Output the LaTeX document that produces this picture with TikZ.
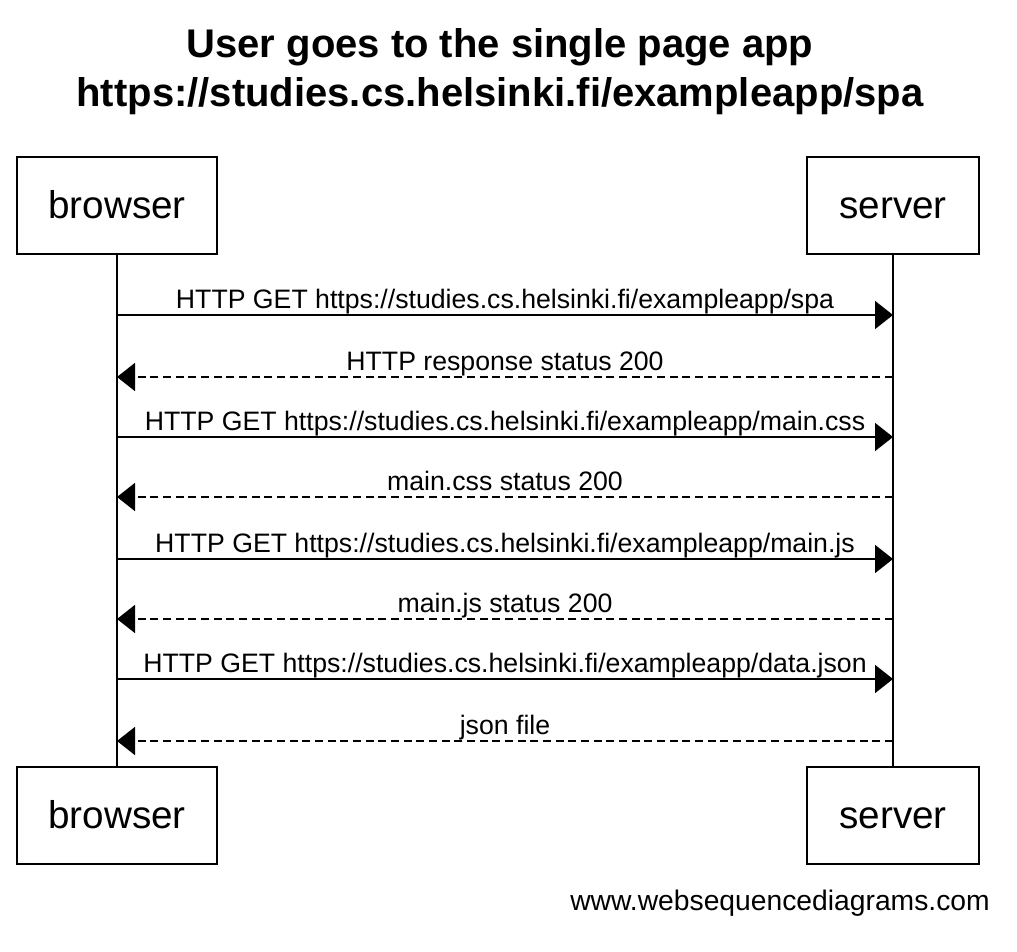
\documentclass[tikz,border=0pt]{standalone}
\usepackage{fontspec}
\setmainfont{Liberation Sans}
\usetikzlibrary{arrows.meta}
\begin{document}
\begin{tikzpicture}[x=0.75pt,y=-0.75pt,
 actor/.style={draw, line width=1.4pt, rectangle, inner sep=0pt, minimum height=72.75pt,
   font=\fontsize{29}{30}\selectfont, text height=20pt, text depth=0pt},
 msg/.style={line width=1.3pt, -{Triangle[length=13.5pt,width=21pt]}},
 ret/.style={msg, dash pattern=on 6pt off 3.5pt},
 lbl/.style={anchor=base, font=\fontsize{20}{22}\selectfont, inner sep=0pt},
 life/.style={line width=1.4pt},
 ttl/.style={anchor=base, font=\fontsize{30}{32}\selectfont\bfseries, inner sep=0pt}]
\useasboundingbox (0,0) rectangle (1017,952);
\fill[white] (0,0) rectangle (1017,952);
% title
\node[ttl] (t1) at (500,58) {User goes to the single page app};
\node[ttl] (t2) at (500,107) {https://studies.cs.helsinki.fi/exampleapp/spa};
% participants
\node[actor, minimum width=150pt] (bTop) at (117,205.5) {browser};
\node[actor, minimum width=129pt] (sTop) at (893,205.5) {server};
\node[actor, minimum width=150pt] (bBot) at (117,815.5) {browser};
\node[actor, minimum width=129pt] (sBot) at (893,815.5) {server};
% lifelines
\draw[life] (bTop.south) -- (bBot.north);
\draw[life] (sTop.south) -- (sBot.north);
% message end points
\foreach \i/\y in {1/315,2/377,3/437,4/497,5/559,6/619,7/679,8/741}{
  \coordinate (b\i) at (117,\y);
  \coordinate (s\i) at (893,\y);
}
\draw[msg] (b1) -- (s1);
\draw[ret] (s2) -- (b2);
\draw[msg] (b3) -- (s3);
\draw[ret] (s4) -- (b4);
\draw[msg] (b5) -- (s5);
\draw[ret] (s6) -- (b6);
\draw[msg] (b7) -- (s7);
\draw[ret] (s8) -- (b8);
% labels
\node[lbl] (l1) at (505,308) {HTTP GET https://studies.cs.helsinki.fi/exampleapp/spa};
\node[lbl] (l2) at (505,370) {HTTP response status 200};
\node[lbl] (l3) at (505,430) {HTTP GET https://studies.cs.helsinki.fi/exampleapp/main.css};
\node[lbl] (l4) at (505,490) {main.css status 200};
\node[lbl] (l5) at (505,552) {HTTP GET https://studies.cs.helsinki.fi/exampleapp/main.js};
\node[lbl] (l6) at (505,612) {main.js status 200};
\node[lbl] (l7) at (505,672) {HTTP GET https://studies.cs.helsinki.fi/exampleapp/data.json};
\node[lbl] (l8) at (505,734) {json file};
% footer
\node[anchor=base east, inner sep=0pt, font=\fontsize{21.2}{23}\selectfont] (foot) at (990,910) {www.websequencediagrams.com};
\end{tikzpicture}
\end{document}
